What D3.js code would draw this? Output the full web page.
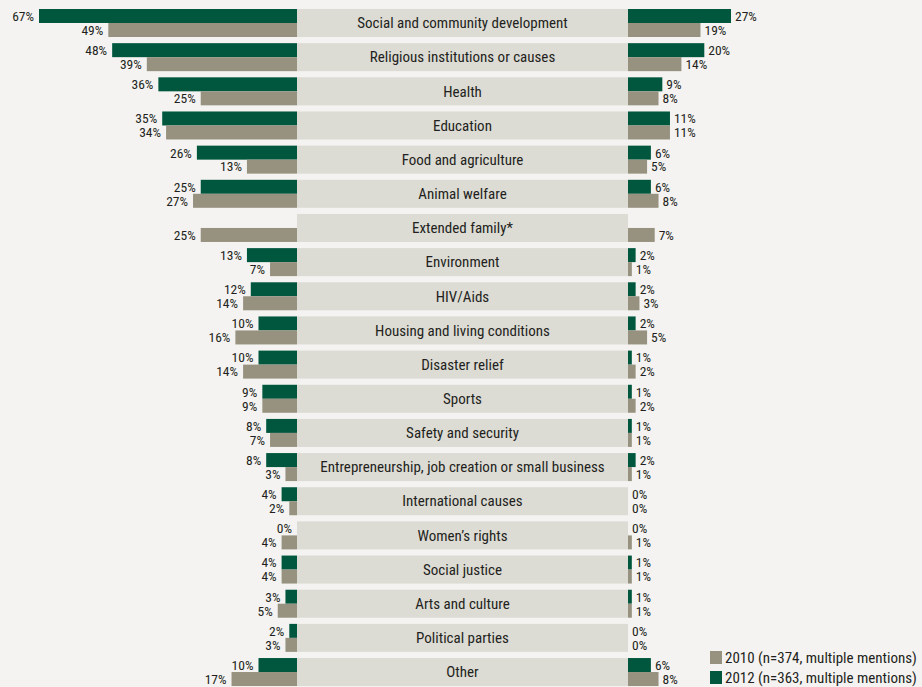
<!DOCTYPE html>
<html><head><meta charset="utf-8">
<script src="https://cdn.jsdelivr.net/npm/d3@7"></script>
<style>
html,body{margin:0;padding:0;background:#f4f3f1;}
svg{display:block;}
text{font-family:"Liberation Sans Narrow","Roboto Condensed","Liberation Sans",Arial,sans-serif;fill:#231f20;}
</style></head><body>
<svg id="chart" width="922" height="687"></svg>
<script>
const categories = ["Social and community development","Religious institutions or causes","Health","Education","Food and agriculture","Animal welfare","Extended family*","Environment","HIV/Aids","Housing and living conditions","Disaster relief","Sports","Safety and security","Entrepreneurship, job creation or small business","International causes","Women\u2019s rights","Social justice","Arts and culture","Political parties","Other"];
const left2012  = [67,48,36,35,26,25,null,13,12,10,10,9,8,8,4,0,4,3,2,10];
const left2010  = [49,39,25,34,13,27,25,7,14,16,14,9,7,3,2,4,4,5,3,17];
const right2012 = [27,20,9,11,6,6,null,2,2,2,1,1,1,2,0,0,1,1,0,6];
const right2010 = [19,14,8,11,5,8,7,1,3,5,2,2,1,1,0,1,1,1,0,8];
const legendLabels = ["2010 (n=374, multiple mentions)","2012 (n=363, multiple mentions)"];

const C12 = "#00573d", C10 = "#97927f", BOX = "#dcdbd4";
const svg = d3.select("#chart");

const boxL = 297, boxR = 628;
const pitch = 34.16, boxH = 28;
const y = d3.scaleBand().domain(categories)
  .range([9, 9 + pitch*(categories.length-1) + boxH])
  .paddingInner((pitch-boxH)/pitch).paddingOuter(0);
const xl = d3.scaleLinear().domain([0, 67]).range([boxL, boxL - 258]);
const xr = d3.scaleLinear().domain([0, 27]).range([boxR, boxR + 103]);
const bh = y.bandwidth()/2;

const rows = svg.selectAll("g.row").data(categories).join("g")
  .attr("class","row").attr("transform", d => `translate(0,${y(d)})`);

rows.append("rect").attr("x", boxL).attr("width", boxR - boxL).attr("y",0).attr("height", y.bandwidth()).attr("fill", BOX);
rows.append("text").attr("x", (boxL+boxR)/2).attr("y", y.bandwidth()/2).attr("dy","0.35em")
  .attr("text-anchor","middle").style("font-size","15px").text(d => d);

function bars(vals, side, off, color){
  const sc = side === "l" ? xl : xr;
  rows.each(function(d,i){
    const v = vals[i];
    if (v === null) return;
    const g = d3.select(this);
    const x0 = sc(0), x1 = sc(v);
    g.append("rect").attr("x", Math.min(x0,x1)).attr("width", Math.abs(x1-x0))
      .attr("y", off).attr("height", bh).attr("fill", color);
    g.append("text")
      .attr("x", side === "l" ? x1 - 5 : x1 + 4)
      .attr("y", off + bh/2).attr("dy","0.36em")
      .attr("text-anchor", side === "l" ? "end" : "start")
      .style("font-size","13.5px").text(v + "%");
  });
}
bars(left2012, "l", 0, C12);
bars(left2010, "l", bh, C10);
bars(right2012, "r", 0, C12);
bars(right2010, "r", bh, C10);

const lg = svg.append("g");
legendLabels.forEach((t,i) => {
  const yy = 651 + i*20;
  lg.append("rect").attr("x",710).attr("y",yy).attr("width",12).attr("height",13).attr("fill", i===0?C10:C12);
  lg.append("text").attr("x",725).attr("y",yy+6.5).attr("dy","0.36em").style("font-size","15px").text(t);
});
</script>
</body></html>
